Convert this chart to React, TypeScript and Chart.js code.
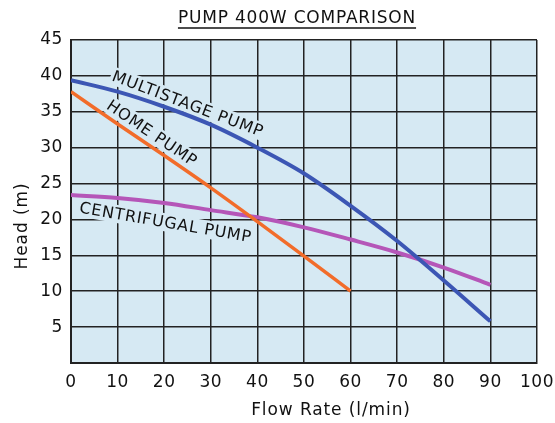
import { useEffect, useRef } from 'react';
import { Chart, registerables } from 'chart.js';

Chart.register(...registerables);

const flowRates = [0, 10, 20, 30, 40, 50, 60, 70, 80, 90];
const multistageHead = [39.4, 37.8, 35.7, 33.2, 30.0, 26.4, 21.9, 17.0, 11.5, 5.8];
const homeFlowRates = [0, 10, 20, 30, 40, 50, 60];
const homeHead = [37.8, 33.3, 28.9, 24.4, 19.7, 14.9, 10.0];
const centrifugalHead = [23.4, 23.0, 22.3, 21.3, 20.3, 18.9, 17.2, 15.4, 13.3, 10.9];

const xTickValues = [0, 10, 20, 30, 40, 50, 60, 70, 80, 90, 100];
const yTickValues = [0, 5, 10, 15, 20, 25, 30, 35, 40, 45];

const titleText = 'PUMP 400W COMPARISON';
const xTitleText = 'Flow Rate (l/min)';
const yTitleText = 'Head (m)';
const curveLabels = ['MULTISTAGE PUMP', 'HOME PUMP', 'CENTRIFUGAL PUMP'];
const curveLabelFlow = [25.1, 17.4, 20.3];
const curveLabelHead = [36.1, 32.0, 19.6];
const curveLabelAngle = [20.7, 34, 9.8];

const PLOT_BG = '#d6e9f3';
const INK = '#111';
const FONT = '"DejaVu Sans", Verdana, sans-serif';

const toPoints = (xs: number[], ys: number[]) => xs.map((x, i) => ({ x, y: ys[i] }));

const decorPlugin = {
  id: 'decor',
  beforeDraw(chart: any) {
    const { ctx, chartArea } = chart;
    ctx.letterSpacing = '0.6px';
    ctx.save();
    ctx.fillStyle = PLOT_BG;
    ctx.fillRect(chartArea.left, chartArea.top, chartArea.right - chartArea.left, chartArea.bottom - chartArea.top);
    ctx.restore();
  },
  beforeDatasetsDraw(chart: any) {
    const { ctx, scales } = chart;
    ctx.save();
    ctx.font = `16px ${FONT}`;
    ctx.letterSpacing = '0.8px';
    ctx.textAlign = 'center';
    ctx.textBaseline = 'middle';
    curveLabels.forEach((t, i) => {
      const px = scales.x.getPixelForValue(curveLabelFlow[i]);
      const py = scales.y.getPixelForValue(curveLabelHead[i]);
      ctx.save();
      ctx.translate(px, py);
      ctx.rotate((curveLabelAngle[i] * Math.PI) / 180);
      const w = ctx.measureText(t).width;
      ctx.fillStyle = PLOT_BG;
      ctx.fillRect(-w / 2 - 2, -9, w + 4, 18);
      ctx.fillStyle = INK;
      ctx.fillText(t, 0, 1);
      ctx.restore();
    });
    ctx.restore();
  },
  afterDraw(chart: any) {
    const { ctx } = chart;
    ctx.save();
    ctx.fillStyle = INK;
    ctx.textAlign = 'center';
    ctx.textBaseline = 'alphabetic';
    // title with underline
    ctx.font = `17px ${FONT}`;
    ctx.letterSpacing = '0.8px';
    const tcx = 297;
    ctx.fillText(titleText, tcx, 23);
    const w = ctx.measureText(titleText).width;
    ctx.strokeStyle = INK;
    ctx.lineWidth = 1.5;
    ctx.beginPath();
    ctx.moveTo(tcx - w / 2, 28);
    ctx.lineTo(tcx + w / 2, 28);
    ctx.stroke();
    // axis titles
    ctx.font = `17px ${FONT}`;
    ctx.letterSpacing = '0.9px';
    ctx.textBaseline = 'middle';
    ctx.fillText(xTitleText, 331, 411);
    ctx.save();
    ctx.translate(23, 226);
    ctx.rotate(-Math.PI / 2);
    ctx.fillText(yTitleText, 0, 0);
    ctx.restore();
    ctx.restore();
    ctx.letterSpacing = '0px';
  },
};

export default function App() {
  const ref = useRef<HTMLCanvasElement>(null);
  useEffect(() => {
    document.body.style.margin = '0';
    const chart = new Chart(ref.current!, {
      type: 'line',
      data: {
        datasets: [
          {
            label: 'Multistage Pump',
            data: toPoints(flowRates, multistageHead),
            borderColor: '#3c56b4',
            borderWidth: 4,
            pointRadius: 0,
            cubicInterpolationMode: 'monotone',
          },
          {
            label: 'Home Pump',
            data: toPoints(homeFlowRates, homeHead),
            borderColor: '#f26c2a',
            borderWidth: 3.5,
            pointRadius: 0,
            cubicInterpolationMode: 'monotone',
          },
          {
            label: 'Centrifugal Pump',
            data: toPoints(flowRates, centrifugalHead),
            borderColor: '#b556b8',
            borderWidth: 4,
            pointRadius: 0,
            cubicInterpolationMode: 'monotone',
          },
        ],
      },
      options: {
        animation: false,
        responsive: false,
        devicePixelRatio: 1,
        layout: { padding: { left: 0, right: 18, top: 40, bottom: 0 } },
        plugins: { legend: { display: false }, tooltip: { enabled: false }, title: { display: false } },
        scales: {
          x: {
            type: 'linear',
            min: 0,
            max: 100,
            afterBuildTicks: (s: any) => { s.ticks = xTickValues.map((v) => ({ value: v })); },
            afterFit: (s: any) => { s.height = 60; s.paddingRight = 0; s.paddingLeft = 0; },
            grid: { color: '#222', lineWidth: 1.5, drawTicks: false },
            border: { color: '#222', width: 2 },
            ticks: { color: INK, font: { family: FONT, size: 17 }, padding: 9, maxRotation: 0 },
          },
          y: {
            type: 'linear',
            min: 0,
            max: 45,
            afterBuildTicks: (s: any) => { s.ticks = yTickValues.map((v) => ({ value: v })); },
            afterFit: (s: any) => { s.width = 71; s.paddingTop = 0; s.paddingBottom = 0; },
            grid: { color: '#222', lineWidth: 1.5, drawTicks: false },
            border: { color: '#222', width: 2 },
            ticks: {
              color: INK,
              font: { family: FONT, size: 17 },
              padding: 8,
              callback: (v: any) => (v === 0 ? '' : String(v)),
            },
          },
        },
      },
      plugins: [decorPlugin],
    } as any);
    return () => chart.destroy();
  }, []);
  return (
    <div style={{ width: 555, height: 423 }}>
      <canvas ref={ref} width={555} height={423} style={{ width: 555, height: 423, display: 'block' }} />
    </div>
  );
}
